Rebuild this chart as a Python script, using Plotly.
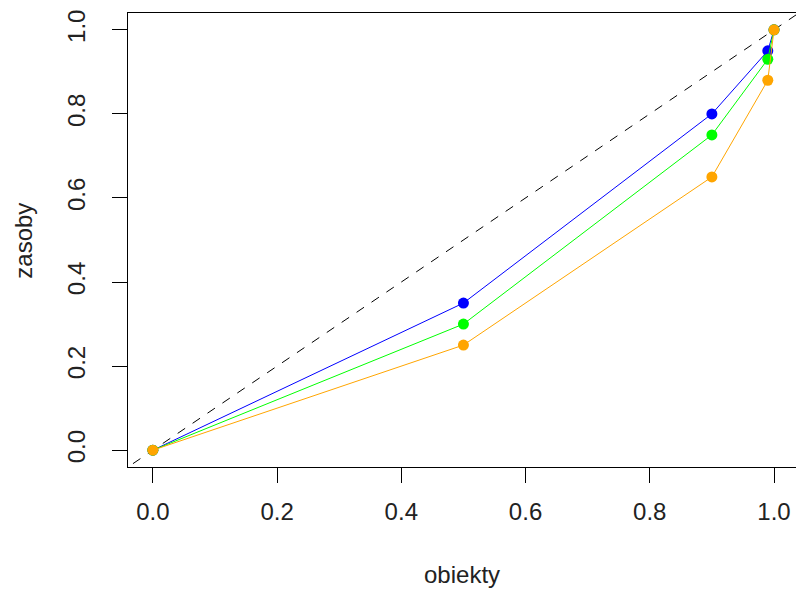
import plotly.graph_objects as go

obiekty = [0.0, 0.5, 0.9, 0.99, 1.0]
zasoby_blue = [0.0, 0.35, 0.80, 0.95, 1.0]
zasoby_green = [0.0, 0.30, 0.75, 0.93, 1.0]
zasoby_orange = [0.0, 0.25, 0.65, 0.88, 1.0]
diag = [-0.2, 1.2]
tick_vals = [0.0, 0.2, 0.4, 0.6, 0.8, 1.0]
tick_text = ["0.0", "0.2", "0.4", "0.6", "0.8", "1.0"]

FONT = "Liberation Sans, Arial, sans-serif"
TXT = "#222222"

fig = go.Figure()
fig.add_trace(go.Scatter(x=diag, y=diag, mode="lines",
                         line=dict(color="black", width=1, dash="dash"),
                         hoverinfo="skip", showlegend=False))
for ys, col in [(zasoby_blue, "#0000FF"), (zasoby_green, "#00FF00"), (zasoby_orange, "#FFA500")]:
    fig.add_trace(go.Scatter(x=obiekty, y=ys, mode="lines+markers",
                             line=dict(color=col, width=1),
                             marker=dict(color=col, size=11),
                             cliponaxis=False, showlegend=False))

fig.update_layout(
    width=796, height=593,
    margin=dict(l=128, r=0, t=13, b=126),
    plot_bgcolor="white", paper_bgcolor="white",
    font=dict(family=FONT, size=24, color=TXT),
    showlegend=False,
    xaxis=dict(range=[-0.04, 1.0354], tickvals=tick_vals, ticktext=tick_text,
               showgrid=False, zeroline=False, showline=True, mirror=True,
               linecolor="black", linewidth=1, ticks="outside", ticklen=15,
               tickcolor="black", tickwidth=1, ticklabelstandoff=8,
               tickfont=dict(family=FONT, size=24, color=TXT)),
    yaxis=dict(range=[-0.04, 1.04], tickvals=tick_vals, ticktext=tick_text,
               showgrid=False, zeroline=False, showline=True, mirror=False,
               linecolor="black", linewidth=1, ticks="outside", ticklen=15,
               tickcolor="black", tickwidth=1, tickangle=-90, ticklabelstandoff=17,
               tickfont=dict(family=FONT, size=24, color=TXT)),
    annotations=[
        dict(text="obiekty", xref="paper", yref="paper", x=0.5, y=-0.236,
             xanchor="center", yanchor="middle", showarrow=False,
             font=dict(family=FONT, size=24, color=TXT)),
        dict(text="zasoby", xref="paper", yref="paper", x=-0.156, y=0.498,
             xanchor="center", yanchor="middle", showarrow=False, textangle=-90,
             font=dict(family=FONT, size=24, color=TXT)),
    ],
)

fig.write_html(
    "out.html",
    config={"displayModeBar": False},
    post_script="document.documentElement.style.overflow='hidden';"
                "document.body.style.margin='0';document.body.style.overflow='hidden';",
)
